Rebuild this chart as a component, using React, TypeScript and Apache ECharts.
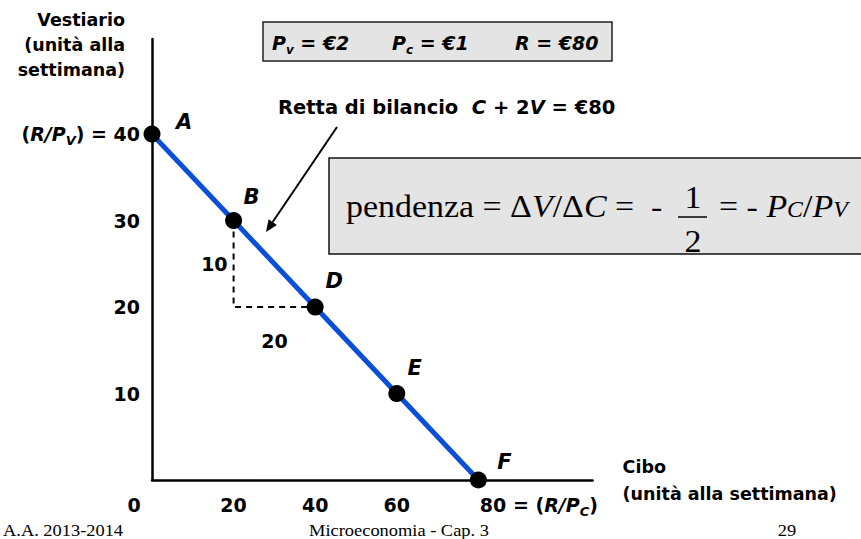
import React, { useEffect, useRef } from 'react';
import * as echarts from 'echarts';

// ---- data ----
const pointNames = ['A', 'B', 'D', 'E', 'F'];
const foodUnits = [0, 20, 40, 60, 80]; // Cibo (C)
const clothingUnits = [40, 30, 20, 10, 0]; // Vestiario (V)
const triangleFood = [20, 20, 40];
const triangleClothing = [30, 20, 20];
const riseRunTexts = ['10', '20'];
const riseRunFood = [20, 30];
const riseRunClothing = [25, 20];
const xTickValues = [0, 20, 40, 60, 80];
const yTickValues = [10, 20, 30, 40];

// ---- styles ----
const SANS = 'DejaVu Sans';
const SERIF = 'Liberation Serif';
const BLUE = '#0a4fd8';
const BOX_FILL = '#e4e4e4';
const labelOffsets = [[32, -12], [18, -24], [19, -26], [18, -26], [26, -18]];

const sansBase = { fontFamily: SANS, fontWeight: 'bold', color: '#000', fontSize: 19, lineHeight: 24 };
const sansRich = {
  n: { ...sansBase },
  z: { ...sansBase, padding: [0, 36, 0, 0] },
  p: { ...sansBase, padding: [0, 0, 0, 121] },
  i: { ...sansBase, fontStyle: 'italic' },
  s: { ...sansBase, fontStyle: 'italic', fontSize: 13, lineHeight: 12, padding: [12, 0, 0, 0] },
};

const serifN = { fontFamily: SERIF, fontSize: 32, color: '#000', lineHeight: 38 };
const serifI = { ...serifN, fontStyle: 'italic' };

function App() {
  const ref = useRef<HTMLDivElement>(null);

  useEffect(() => {
    if (!ref.current) return;
    const chart = echarts.init(ref.current, null, { renderer: 'svg' });

    const option = {
      animation: false,
      backgroundColor: '#ffffff',
      grid: { left: 152, top: 39, width: 440.6, height: 441, containLabel: false },
      xAxis: {
        type: 'value',
        min: 0,
        max: 108,
        interval: 20,
        axisLine: { show: true, onZero: false, lineStyle: { color: '#000', width: 2.5 } },
        axisTick: { show: false },
        splitLine: { show: false },
        axisLabel: {
          show: true,
          showMinLabel: true,
          margin: 13,
          ...sansBase,
          formatter: (v: number) => {
            if (!xTickValues.includes(v)) return '';
            if (v === 0) return '{z|0}';
            if (v === 80) return '{p|80 = (}{i|R/P}{s|C}{n|)}';
            return String(v);
          },
          rich: sansRich,
        },
        name: 'Cibo\n(unità alla settimana)',
        nameLocation: 'end',
        nameGap: 30,
        nameTextStyle: {
          fontFamily: SANS,
          fontWeight: 'bold',
          fontSize: 17.5,
          color: '#000',
          lineHeight: 27,
          align: 'left',
          verticalAlign: 'middle',
          padding: [15, 0, 0, 0],
        },
      },
      yAxis: {
        type: 'value',
        min: 0,
        max: 51,
        interval: 10,
        axisLine: { show: true, onZero: false, lineStyle: { color: '#000', width: 2.5 } },
        axisTick: { show: false },
        splitLine: { show: false },
        axisLabel: {
          show: true,
          margin: 12,
          ...sansBase,
          formatter: (v: number) => {
            if (!yTickValues.includes(v)) return '';
            if (v === 40) return '{n|(}{i|R/P}{s|V}{n|) = 40}';
            return String(v);
          },
          rich: sansRich,
        },
        name: 'Vestiario\n(unità alla\nsettimana)',
        nameLocation: 'end',
        nameGap: 31.5,
        nameTextStyle: {
          fontFamily: SANS,
          fontWeight: 'bold',
          fontSize: 17.5,
          color: '#000',
          lineHeight: 25,
          align: 'right',
          verticalAlign: 'top',
          padding: [0, 27, 0, 0],
        },
      },
      series: [
        {
          type: 'line',
          name: 'variazioni',
          data: triangleFood.map((c, i) => [c, triangleClothing[i]]),
          symbol: 'none',
          silent: true,
          z: 2,
          lineStyle: { color: '#000', width: 2, type: [6, 5] },
        },
        {
          type: 'scatter',
          name: 'etichette',
          data: riseRunTexts.map((t, i) => ({
            value: [riseRunFood[i], riseRunClothing[i]],
            name: t,
            label: i === 0 ? { position: 'left', distance: 6 } : { position: 'bottom', distance: 24 },
          })),
          symbolSize: 0,
          silent: true,
          z: 2,
          itemStyle: { color: '#000', opacity: 1 },
          label: { show: true, formatter: '{b}', fontFamily: SANS, fontWeight: 'bold', fontSize: 19, color: '#000', opacity: 1 },
        },
        {
          type: 'line',
          name: 'Retta di bilancio',
          data: foodUnits.map((c, i) => ({
            value: [c, clothingUnits[i]],
            name: pointNames[i],
            label: { offset: labelOffsets[i] },
          })),
          z: 3,
          symbol: 'circle',
          symbolSize: 17,
          showSymbol: true,
          itemStyle: { color: '#000' },
          lineStyle: { color: BLUE, width: 5 },
          label: {
            show: true,
            position: 'inside',
            formatter: '{b}',
            fontFamily: SANS,
            fontWeight: 'bold',
            fontStyle: 'italic',
            fontSize: 21,
            color: '#000',
          },
        },
      ],
      graphic: [
        // price box
        {
          type: 'rect',
          shape: { x: 263, y: 22, width: 349, height: 39 },
          style: { fill: BOX_FILL, stroke: '#222', lineWidth: 1.5 },
          z: 10,
        },
        ...[
          { x: 272, t: '{i|P}{s|v}{i| = €2}' },
          { x: 392, t: '{i|P}{s|c}{i| = €1}' },
          { x: 515, t: '{i|R = €80}' },
        ].map((o) => ({
          type: 'text',
          x: o.x,
          y: 43,
          z: 11,
          style: {
            text: o.t,
            verticalAlign: 'middle',
            rich: {
              i: { ...sansBase, fontSize: 19, fontStyle: 'italic', lineHeight: 24 },
              s: { ...sansBase, fontStyle: 'italic', fontSize: 12, lineHeight: 12, padding: [13, 0, 0, 0] },
            },
          },
        })),
        // budget line caption
        {
          type: 'text',
          x: 278,
          y: 107,
          z: 11,
          style: {
            text: '{n|Retta di bilancio  }{i|C}{n| + 2}{i|V}{n| = €80}',
            verticalAlign: 'middle',
            rich: {
              n: { ...sansBase, fontSize: 19.5 },
              i: { ...sansBase, fontSize: 19.5, fontStyle: 'italic' },
            },
          },
        },
        // arrow
        {
          type: 'line',
          z: 11,
          shape: { x1: 337, y1: 127, x2: 272.7, y2: 222 },
          style: { stroke: '#000', lineWidth: 2 },
        },
        {
          type: 'polygon',
          z: 11,
          shape: { points: [[266, 232], [276.9, 224.9], [268.6, 219.3]] },
          style: { fill: '#000' },
        },
        // slope box
        {
          type: 'rect',
          shape: { x: 329, y: 158, width: 560, height: 96 },
          style: { fill: BOX_FILL, stroke: '#111', lineWidth: 1.5 },
          z: 10,
        },
        {
          type: 'text',
          x: 346,
          y: 206,
          scaleX: 1.06,
          z: 11,
          style: {
            text: '{n|pendenza = Δ}{i|V}{n|/Δ}{i|C}{n| =  -}',
            verticalAlign: 'middle',
            rich: { n: serifN, i: serifI },
          },
        },
        {
          type: 'text',
          x: 693,
          y: 197,
          scaleX: 1.06,
          z: 11,
          style: { text: '1', align: 'center', verticalAlign: 'middle', fontFamily: SERIF, fontSize: 32, fill: '#000' },
        },
        {
          type: 'line',
          z: 11,
          shape: { x1: 678, y1: 217, x2: 707, y2: 217 },
          style: { stroke: '#000', lineWidth: 1.5 },
        },
        {
          type: 'text',
          x: 693,
          y: 241,
          scaleX: 1.06,
          z: 11,
          style: { text: '2', align: 'center', verticalAlign: 'middle', fontFamily: SERIF, fontSize: 32, fill: '#000' },
        },
        {
          type: 'text',
          x: 719,
          y: 206,
          scaleX: 1.06,
          z: 11,
          style: {
            text: '{n|= - }{i|P}{c|C}{n|/}{i|P}{c|V}',
            verticalAlign: 'middle',
            rich: {
              n: serifN,
              i: serifI,
              c: { fontFamily: SERIF, fontSize: 22.5, color: '#000', lineHeight: 30, fontStyle: 'italic', padding: [6, 0, 0, 0] },
            },
          },
        },
        // footer
        {
          type: 'text',
          x: 3,
          y: 531,
          scaleX: 1.15,
          style: { text: 'A.A. 2013-2014', verticalAlign: 'middle', fontFamily: SERIF, fontSize: 16, fill: '#000' },
        },
        {
          type: 'text',
          x: 399,
          y: 531,
          scaleX: 1.15,
          style: { text: 'Microeconomia - Cap. 3', align: 'center', verticalAlign: 'middle', fontFamily: SERIF, fontSize: 16, fill: '#000' },
        },
        {
          type: 'text',
          x: 787,
          y: 531,
          scaleX: 1.15,
          style: { text: '29', align: 'center', verticalAlign: 'middle', fontFamily: SERIF, fontSize: 16, fill: '#000' },
        },
      ],
    };

    chart.setOption(option as any);
    return () => chart.dispose();
  }, []);

  return (
    <div
      ref={ref}
      style={{ position: 'fixed', left: 0, top: 0, width: 861, height: 539, background: '#fff' }}
    />
  );
}

export default App;
